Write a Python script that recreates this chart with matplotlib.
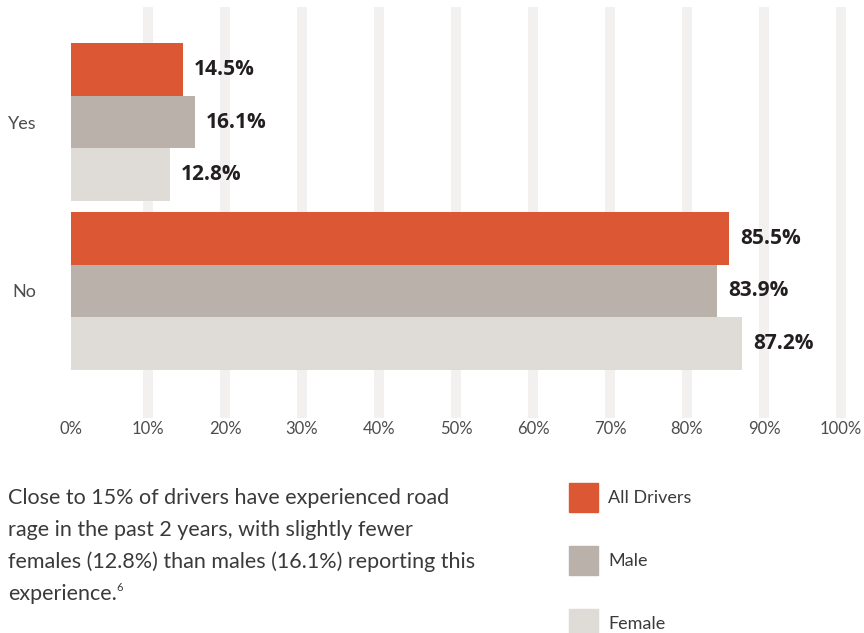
import matplotlib
matplotlib.use('Agg')
import matplotlib.pyplot as plt
from matplotlib.patches import Rectangle
import numpy as np

# ---- data ----
categories = ['Yes', 'No']
series_names = ['All Drivers', 'Male', 'Female']
all_drivers = [14.5, 85.5]
male = [16.1, 83.9]
female = [12.8, 87.2]
x_ticks = [0, 10, 20, 30, 40, 50, 60, 70, 80, 90, 100]
x_tick_labels = [f'{t}%' for t in x_ticks]
caption_lines = [
    'Close to 15% of drivers have experienced road',
    'rage in the past 2 years, with slightly fewer',
    'females (12.8%) than males (16.1%) reporting this',
    'experience.',
]
footnote = '6'

# ---- style ----
colors = ['#DC5835', '#BBB1AB', '#DFDBD7']
grid_color = '#F2F1EF'
body_font = ['Lato', 'DejaVu Sans']
bold_font = ['Open Sans', 'DejaVu Sans']
text_color = '#3A3A3A'
tick_color = '#4D4D4D'
body_weight = 'normal'

W, H = 864, 633
fig = plt.figure(figsize=(W / 100, H / 100), dpi=100)
ax = fig.add_axes([71 / W, (H - 413) / H, 770 / W, 401 / H])

series = [all_drivers, male, female]
h = 0.312
ypos = np.arange(len(categories))
for i, (vals, c) in enumerate(zip(series, colors)):
    off = (i - 1) * h
    bars = ax.barh(ypos + off, vals, height=h, color=c, zorder=2)
    for b, v in zip(bars, vals):
        ax.annotate(f'{v}%', xy=(v, b.get_y() + h / 2), xytext=(11, 0),
                    textcoords='offset pixels', va='center', ha='left',
                    fontsize=15, fontweight='bold', family=bold_font,
                    color='#231F20')

ax.set_xlim(0, 100)
ax.set_ylim(1.722, -0.651)
for t in x_ticks[1:]:
    ax.axvline(t, color=grid_color, lw=7.2, zorder=0, clip_on=False)

for s in ax.spines.values():
    s.set_visible(False)
ax.set_xticks(x_ticks, x_tick_labels)
ax.set_yticks(ypos, categories)
ax.tick_params(axis='x', length=0, pad=6, labelsize=12, labelcolor=tick_color)
ax.tick_params(axis='y', length=0, pad=25, labelsize=13, labelcolor=tick_color)
for lab in ax.get_xticklabels() + ax.get_yticklabels():
    lab.set_family(body_font)
    lab.set_fontweight(body_weight)

# ---- caption ----
baseline0 = 504
spacing = 32
texts = []
for k, line in enumerate(caption_lines):
    t = fig.text(8 / W, 1 - (baseline0 + k * spacing) / H, line, va='baseline',
                 ha='left', fontsize=15.5, family=body_font, fontweight=body_weight,
                 color=text_color)
    texts.append(t)

fig.canvas.draw()
r = fig.canvas.get_renderer()
bb = texts[-1].get_window_extent(r)
last_base = baseline0 + (len(caption_lines) - 1) * spacing
fig.text((bb.x1 - 1) / W, 1 - (last_base - 9) / H, footnote, va='baseline',
         ha='left', fontsize=8, family=body_font, fontweight=body_weight,
         color=text_color)

# ---- legend ----
leg_y = [483, 546, 609]
for name, c, y in zip(series_names, colors, leg_y):
    fig.add_artist(Rectangle((569 / W, 1 - (y + 29) / H), 29 / W, 29 / H,
                             transform=fig.transFigure, color=c))
    fig.text(608 / W, 1 - (y + 15) / H, name, va='center', ha='left',
             fontsize=13, family=body_font, fontweight=body_weight,
             color=text_color)

fig.savefig('out.png', dpi=100)
